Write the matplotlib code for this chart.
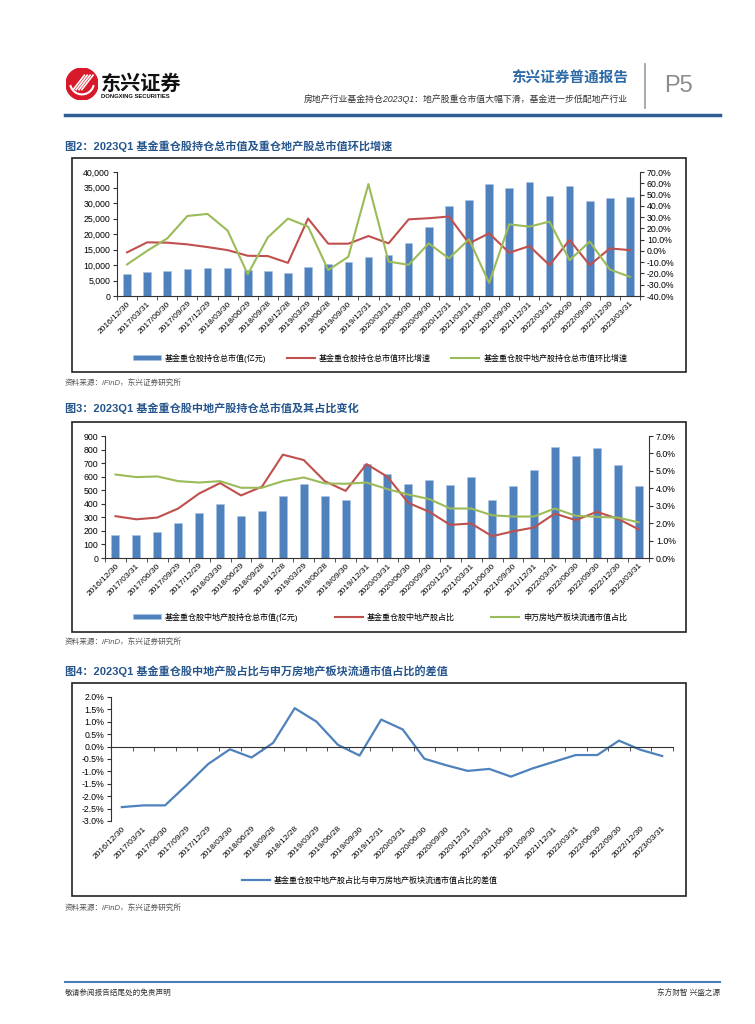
import numpy as np
import matplotlib
matplotlib.use("Agg")
import matplotlib.pyplot as plt
from matplotlib.patches import Rectangle, Circle
from matplotlib.ticker import FuncFormatter, MultipleLocator, FixedLocator

plt.rcParams['font.family'] = ['Liberation Sans', 'Noto Sans CJK SC', 'DejaVu Sans']
plt.rcParams['axes.unicode_minus'] = False

# ---- data ----
dates = ["2016/12/30", "2017/03/31", "2017/06/30", "2017/09/29", "2017/12/29",
         "2018/03/30", "2018/06/29", "2018/09/28", "2018/12/28", "2019/03/29",
         "2019/06/28", "2019/09/30", "2019/12/31", "2020/03/31", "2020/06/30",
         "2020/09/30", "2020/12/31", "2021/03/31", "2021/06/30", "2021/09/30",
         "2021/12/31", "2022/03/31", "2022/06/30", "2022/09/30", "2022/12/30",
         "2023/03/31"]

# chart 1
hold_value = [7000, 7700, 8200, 8650, 8970, 8970, 8500, 8200, 7350, 9500,
              10200, 11000, 12650, 13200, 17200, 22200, 28900, 31000, 36100, 35000,
              36900, 32300, 35400, 30700, 31700, 32000]
hold_qoq = [-1.3, 7.6, 7.3, 5.8, 3.4, 0.7, -4.3, -4.6, -10.6, 28.7,
            6.4, 6.4, 13.2, 6.7, 28.0, 29.0, 30.5, 6.7, 15.6, -1.6,
            4.3, -12.6, 9.7, -12.6, 2.2, 0.7]
re_qoq = [-12.0, 0.1, 11.1, 31.0, 32.8, 18.0, -20.7, 12.0, 28.7, 21.5,
          -17.0, -5.2, 59.3, -9.5, -12.3, 6.7, -6.7, 10.3, -28.4, 23.6,
          21.5, 26.0, -8.2, 8.2, -16.5, -23.0]

# chart 2
re_value = [172, 172, 192, 256, 333, 397, 313, 345, 454, 545,
            454, 431, 690, 621, 545, 579, 537, 594, 431, 532,
            651, 816, 750, 811, 685, 532]
re_share = [2.40, 2.22, 2.32, 2.84, 3.70, 4.30, 3.59, 4.09, 5.93, 5.62,
            4.41, 3.85, 5.39, 4.66, 3.16, 2.65, 1.90, 1.98, 1.25, 1.53,
            1.75, 2.55, 2.17, 2.65, 2.26, 1.65]
sw_share = [4.79, 4.64, 4.68, 4.41, 4.33, 4.41, 4.03, 4.03, 4.41, 4.62,
            4.28, 4.26, 4.33, 3.95, 3.64, 3.38, 2.84, 2.84, 2.45, 2.38,
            2.38, 2.84, 2.42, 2.36, 2.32, 2.05]

# chart 3
diff = [-2.44, -2.37, -2.37, -1.55, -0.70, -0.11, -0.44, 0.15, 1.55, 1.01,
        0.07, -0.36, 1.09, 0.69, -0.49, -0.75, -0.98, -0.90, -1.21, -0.88,
        -0.61, -0.34, -0.34, 0.24, -0.13, -0.38]

BLUE = "#4F81BD"
RED = "#C0504D"
GREEN = "#9BBB59"
TITLE_C = "#25558C"

W, H = 755, 1024
fig = plt.figure(figsize=(W / 100, H / 100), dpi=100)


def rect(x0, y0, x1, y1):
    return [x0 / W, 1 - y1 / H, (x1 - x0) / W, (y1 - y0) / H]


def ftext(x, y, s, **kw):
    fig.text(x / W, 1 - y / H, s, **kw)


def hline(x0, x1, y, **kw):
    fig.add_artist(plt.Line2D([x0 / W, x1 / W], [1 - y / H, 1 - y / H], **kw))


def box(x0, y0, x1, y1):
    fig.add_artist(Rectangle((x0 / W, 1 - y1 / H), (x1 - x0) / W, (y1 - y0) / H,
                             transform=fig.transFigure, fill=False, ec="#222222", lw=1.2))


# ---- header ----
ax_logo = fig.add_axes(rect(66, 68, 98, 100))
ax_logo.set_xlim(-1, 1)
ax_logo.set_ylim(-1, 1)
ax_logo.set_aspect("equal")
ax_logo.axis("off")
ax_logo.add_patch(Circle((0, 0), 1, color="#D7192A"))
for k in range(4):
    ax_logo.plot([-0.55 + 0.18 * k, 0.15 + 0.18 * k], [-0.35, 0.55], color="white", lw=1.2)
t = np.linspace(np.pi * 1.1, np.pi * 1.9, 30)
ax_logo.plot(0.75 * np.cos(t), 0.75 * np.sin(t) + 0.1, color="white", lw=1.5)

ftext(101, 83, "东兴证券", fontsize=14.5, fontweight="bold", color="#111111", va="center",
      family=["Noto Sans CJK SC"])
ftext(101, 97, "DONGXING SECURITIES", fontsize=4.2, fontweight="bold", color="#111111", va="center")
ftext(628, 78, "东兴证券普通报告", fontsize=10.5, fontweight="bold", color="#2D6AA6",
      ha="right", va="center", family=["Noto Sans CJK SC"])
ftext(628, 99, "房地产行业基金持仓2023Q1：地产股重仓市值大幅下滑，基金进一步低配地产行业",
      fontsize=6.4, color="#333333", ha="right", va="center", style="italic")
fig.add_artist(plt.Line2D([645 / W, 645 / W], [1 - 64 / H, 1 - 108 / H], color="#999999", lw=1.2))
ftext(678, 86, "P5", fontsize=17, color="#8C8C8C", ha="center", va="center")
hline(65, 720, 115, color="#2E5E91", lw=2.5)

# ---- footer ----
hline(65, 720, 982, color="#4A7DB5", lw=1.5)
ftext(65, 993, "敬请参阅报告结尾处的免责声明", fontsize=5.5, color="#333333", va="center")
ftext(720, 993, "东方财智 兴盛之源", fontsize=5.5, color="#333333", va="center", ha="right")

x = np.arange(len(dates))


def style_cat_axis(ax):
    ax.set_xlim(-0.5, len(dates) - 0.5)
    ax.set_xticks(x)
    ax.set_xticklabels(dates, rotation=45, ha="right", rotation_mode="anchor", fontsize=6)
    ax.xaxis.set_minor_locator(FixedLocator(np.arange(-0.5, len(dates), 1.0)))
    ax.tick_params(axis="x", which="major", length=0, pad=3)
    ax.tick_params(axis="x", which="minor", length=3, direction="out", color="#333333")
    ax.tick_params(axis="y", labelsize=6.3, length=3, direction="out", color="#333333", pad=2)
    ax.spines["top"].set_visible(False)
    for s in ax.spines.values():
        s.set_color("#333333")
        s.set_linewidth(0.8)


def right_axis(axr, fmt):
    axr.yaxis.set_major_formatter(FuncFormatter(fmt))
    axr.tick_params(axis="y", labelsize=6.3, length=3, direction="out", color="#333333", pad=2)
    for s in ["top", "left", "bottom"]:
        axr.spines[s].set_visible(False)
    axr.spines["right"].set_color("#333333")
    axr.spines["right"].set_linewidth(0.8)


def source(y):
    ftext(65, y, "资料来源：iFinD，东兴证券研究所", fontsize=5.5, color="#555555",
          va="center", style="italic")


pct1 = lambda v, p: f"{v:.1f}%"

# ---- chart 1 ----
ftext(65, 146, "图2：2023Q1 基金重仓股持仓总市值及重仓地产股总市值环比增速",
      fontsize=8, fontweight="bold", color=TITLE_C, va="center")
box(72, 158, 686, 372)
ax1 = fig.add_axes(rect(117, 172, 640, 296))
b1 = ax1.bar(x, hold_value, width=0.38, color=BLUE, edgecolor="#A9C4E6", linewidth=0.4,
             label="基金重仓股持仓总市值(亿元)")
ax1.set_ylim(0, 40000)
ax1.yaxis.set_major_locator(MultipleLocator(5000))
ax1.yaxis.set_major_formatter(FuncFormatter(lambda v, p: f"{v:,.0f}"))
style_cat_axis(ax1)
ax1.spines["right"].set_visible(False)
ax1r = ax1.twinx()
l1, = ax1r.plot(x, hold_qoq, color=RED, lw=1.5, label="基金重仓股持仓总市值环比增速")
l2, = ax1r.plot(x, re_qoq, color=GREEN, lw=1.5, label="基金重仓股中地产股持仓总市值环比增速")
ax1r.set_ylim(-40, 70)
ax1r.yaxis.set_major_locator(MultipleLocator(10))
right_axis(ax1r, pct1)
fig.legend([b1, l1, l2], [b1.get_label(), l1.get_label(), l2.get_label()],
           loc="center", bbox_to_anchor=(380 / W, 1 - 358 / H), ncol=3, frameon=False,
           fontsize=5.8, handlelength=3.5, handleheight=0.5, columnspacing=2.5, handletextpad=0.5)
source(383)

# ---- chart 2 ----
ftext(65, 408, "图3：2023Q1 基金重仓股中地产股持仓总市值及其占比变化",
      fontsize=8, fontweight="bold", color=TITLE_C, va="center")
box(72, 422, 686, 632)
ax2 = fig.add_axes(rect(105, 436, 649, 558))
b2 = ax2.bar(x, re_value, width=0.38, color=BLUE, edgecolor="#A9C4E6", linewidth=0.4,
             label="基金重仓股中地产股持仓总市值(亿元)")
ax2.set_ylim(0, 900)
ax2.yaxis.set_major_locator(MultipleLocator(100))
style_cat_axis(ax2)
ax2.spines["right"].set_visible(False)
ax2r = ax2.twinx()
l3, = ax2r.plot(x, re_share, color=RED, lw=1.5, label="基金重仓股中地产股占比")
l4, = ax2r.plot(x, sw_share, color=GREEN, lw=1.5, label="申万房地产板块流通市值占比")
ax2r.set_ylim(0, 7)
ax2r.yaxis.set_major_locator(MultipleLocator(1))
right_axis(ax2r, pct1)
fig.legend([b2, l3, l4], [b2.get_label(), l3.get_label(), l4.get_label()],
           loc="center", bbox_to_anchor=(380 / W, 1 - 617 / H), ncol=3, frameon=False,
           fontsize=5.8, handlelength=3.5, handleheight=0.5, columnspacing=4.5, handletextpad=0.5)
source(642)

# ---- chart 3 ----
ftext(65, 671, "图4：2023Q1 基金重仓股中地产股占比与申万房地产板块流通市值占比的差值",
      fontsize=8, fontweight="bold", color=TITLE_C, va="center")
box(72, 683, 686, 896)
ax3 = fig.add_axes(rect(111, 697, 673, 821))
# zero line on the top spine, with tick marks hanging below it
ax3.spines["top"].set_position(("data", 0))
l5, = ax3.plot(x, diff, color=BLUE, lw=1.6,
               label="基金重仓股中地产股占比与申万房地产板块流通市值占比的差值")
ax3.set_ylim(-3, 2)
ax3.yaxis.set_major_locator(MultipleLocator(0.5))
ax3.yaxis.set_major_formatter(FuncFormatter(pct1))
style_cat_axis(ax3)
ax3.spines["right"].set_visible(False)
ax3.spines["bottom"].set_visible(False)
ax3.spines["top"].set_visible(True)
ax3.tick_params(axis="x", which="minor", bottom=False, top=True, direction="in",
                length=3, color="#333333")
ax3.tick_params(axis="x", which="major", top=False, labeltop=False)
fig.legend([l5], [l5.get_label()], loc="center", bbox_to_anchor=(370 / W, 1 - 881 / H),
           frameon=False, fontsize=5.8, handlelength=3.5, handletextpad=0.5)
source(908)

fig.savefig("out.png", dpi=100)
